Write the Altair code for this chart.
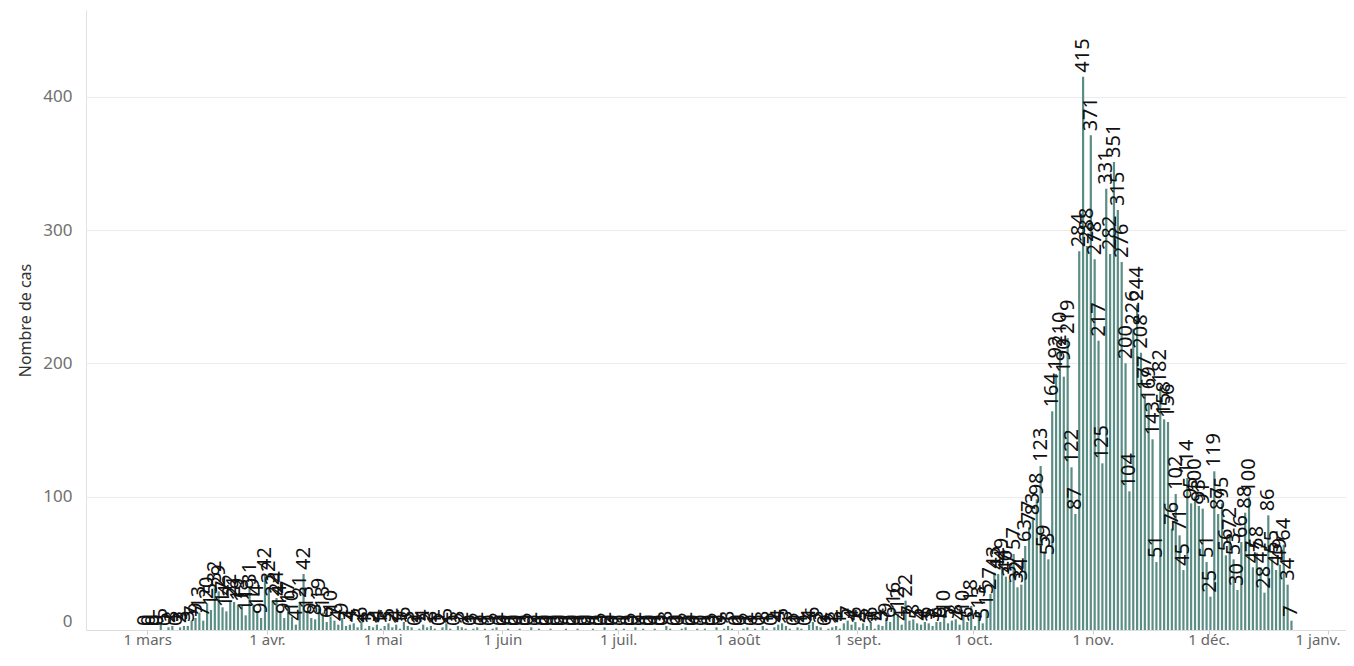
import altair as alt
import pandas as pd

# Daily case counts, 29 Feb 2020 -> 22 Dec 2020
feb = [0]
mar = [0, 0, 0, 5, 0, 2, 3, 0, 2, 3, 3, 7, 9, 13, 7, 20, 15, 32, 29, 17,
       14, 22, 21, 19, 18, 11, 31, 19, 14, 9, 42]
apr = [32, 22, 24, 14, 9, 17, 10, 4, 21, 42, 13, 9, 8, 19, 13, 6, 10, 7, 4, 9,
       3, 4, 5, 2, 6, 1, 3, 2, 4, 1]
may = [3, 5, 2, 4, 1, 6, 3, 2, 0, 1, 4, 2, 3, 1, 0, 2, 5, 1, 0, 3,
       2, 1, 0, 1, 2, 0, 1, 0, 1, 2, 0]
jun = [0, 1, 0, 0, 1, 0, 0, 2, 0, 1, 0, 0, 1, 0, 0, 0, 1, 0, 0, 1,
       0, 0, 0, 1, 0, 0, 2, 0, 0, 1]
jul = [0, 1, 0, 0, 2, 0, 1, 0, 0, 1, 0, 0, 3, 1, 0, 0, 1, 2, 0, 0,
       1, 0, 1, 0, 0, 2, 0, 1, 3, 1, 0]
aug = [0, 1, 2, 0, 1, 0, 3, 1, 0, 2, 4, 5, 3, 1, 0, 2, 1, 0, 4, 6,
       3, 2, 0, 1, 2, 3, 1, 5, 7, 4, 6]
sep = [2, 5, 3, 6, 1, 4, 3, 9, 6, 16, 12, 4, 22, 7, 8, 5, 4, 6, 5, 3,
       6, 6, 10, 5, 7, 8, 4, 10, 6, 18]
oct_ = [3, 13, 5, 15, 27, 43, 42, 49, 40, 37, 57, 32, 34, 63, 77, 83, 98, 123, 59, 53,
        164, 192, 210, 190, 219, 122, 87, 284, 415, 288, 371]
nov = [278, 217, 125, 331, 282, 351, 315, 276, 200, 104, 226, 244, 208, 177, 169, 143, 51, 182, 158, 156,
       76, 102, 71, 45, 114, 95, 100, 93, 91, 51]
dec = [25, 119, 87, 95, 56, 72, 53, 30, 66, 88, 100, 47, 58, 47, 28, 86, 55, 45, 49, 64,
       34, 7]

values = feb + mar + apr + may + jun + jul + aug + sep + oct_ + nov + dec
dates = pd.date_range("2020-02-29", periods=len(values), freq="D") + pd.Timedelta(hours=12)

month_names = ["janv.", "févr.", "mars", "avr.", "mai", "juin",
               "juil.", "août", "sept.", "oct.", "nov.", "déc."]
tick_months = [(2020, 3), (2020, 4), (2020, 5), (2020, 6), (2020, 7), (2020, 8),
               (2020, 9), (2020, 10), (2020, 11), (2020, 12), (2021, 1)]
y_ticks = [0, 100, 200, 300, 400]

df = pd.DataFrame({"date": dates.strftime("%Y-%m-%dT%H:%M:%S"), "cases": values})

FONT = "Noto Sans"
BAR = "#5a8d84"

label_expr = "'1 ' + " + str(month_names).replace('"', "'") + "[month(datum.value)]"
is_last = "year(datum.value) == 2021"

x = alt.X(
    "date:T",
    scale=alt.Scale(domain=[alt.DateTime(year=2020, month=2, date=15, hours=10),
                            alt.DateTime(year=2021, month=1, date=4, hours=8)]),
    axis=alt.Axis(
        values=[alt.DateTime(year=y, month=m, date=1) for y, m in tick_months],
        labelExpr=label_expr, title=None, grid=False,
        domainColor="#dddddd", tickColor="#cccccc", tickSize=4,
        labelColor="#666666", labelFontSize=15, labelFont=FONT, labelPadding=-2,
        labelAlign={"condition": {"test": is_last, "value": "right"}, "value": "center"},
        labelOffset={"condition": {"test": is_last, "value": 12}, "value": 0},
    ),
)
y = alt.Y(
    "cases:Q",
    scale=alt.Scale(domain=[0, 465], nice=False),
    axis=alt.Axis(
        values=y_ticks, title="Nombre de cas", ticks=False,
        gridColor="#ececec", domainColor="#e2e2e2",
        labelColor="#707070", labelFontSize=17, labelFont=FONT, labelPadding=14,
        labelFlush=1,
        titleFont=FONT, titleFontSize=16, titleFontWeight="normal",
        titleColor="#333333", titlePadding=9,
    ),
)

bars = alt.Chart(df).mark_bar(color=BAR, size=2.2).encode(x=x, y=y)
labels = alt.Chart(df).mark_text(
    angle=270, align="left", baseline="middle", dx=4,
    fontSize=20, font=FONT, color="#111111",
).encode(x=x, y=y, text="cases:Q")

chart = alt.layer(bars, labels).properties(
    width=1260, height=620,
    background="white",
    autosize=alt.AutoSizeParams(type="none"),
    padding={"left": 78, "top": 2, "right": 0, "bottom": 30},
).configure_view(stroke=None)

chart.save("out.html", embed_options={"renderer": "svg", "actions": False})
